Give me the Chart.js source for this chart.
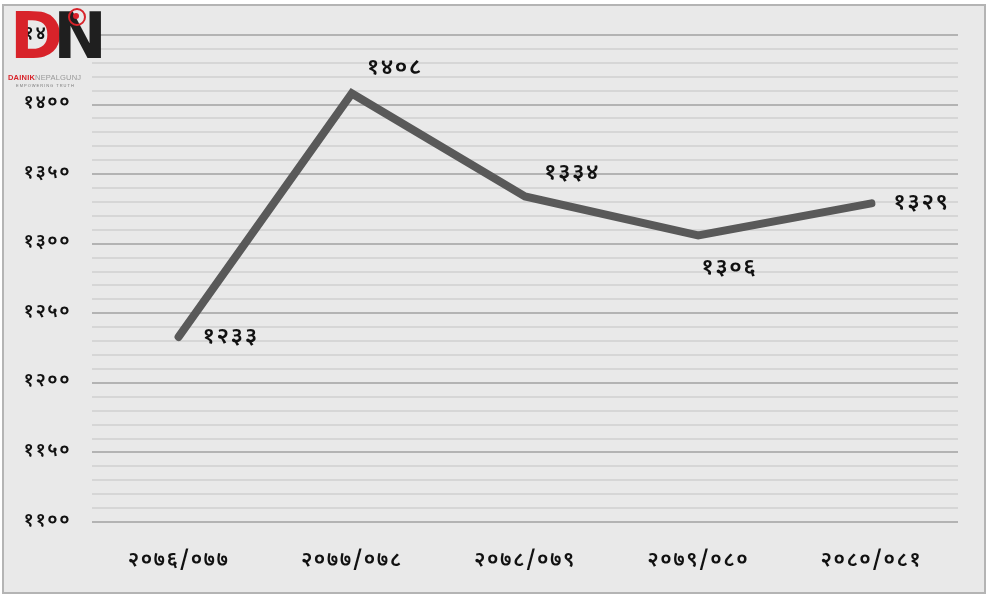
<!DOCTYPE html>
<html>
<head>
<meta charset="utf-8">
<script src="https://cdn.jsdelivr.net/npm/chart.js@4.4.1/dist/chart.umd.min.js"></script>
<style>
  html, body { margin: 0; padding: 0; background: #ffffff; }
  #wrap { position: relative; width: 988px; height: 599px; overflow: hidden; }
  #frame { position: absolute; left: 2px; top: 4px; width: 980px; height: 586px;
           border: 2px solid #b4b4b4; background: #e9e9e9; }
  #c { position: absolute; left: 0; top: 0; }
  #logo { position: absolute; left: 6px; top: 8px; width: 86px; height: 82px; }
  #logo .dn { position: absolute; left: 4px; top: -4px; font: 900 64px/1 "DejaVu Sans", sans-serif; letter-spacing: -10px; }
  #logo .d { color: #d8232a; }
  #logo .n { color: #1f1f1f; }
  #logo .name { position: absolute; left: 2px; top: 66px; font: 700 7.5px/1 "Liberation Sans", sans-serif; color: #d8232a; letter-spacing: 0.2px; }
  #logo .name span { color: #999; font-weight: 400; }
  #logo .tag { position: absolute; left: 10px; top: 76px; font: 400 4px/1 "Liberation Sans", sans-serif; color: #777; letter-spacing: 1px; }
  #logo .sig { position: absolute; left: 62px; top: 0px; width: 14px; height: 14px; border: 2px solid #d8232a; border-radius: 50%; }
  #logo .sig2 { position: absolute; left: 67px; top: 5px; width: 6px; height: 6px; background: #d8232a; border-radius: 50%; }
</style>
</head>
<body>
<div id="wrap">
  <div id="frame"></div>
  <canvas id="c" width="988" height="599"></canvas>
  <div id="logo">
    <div class="dn"><span class="d">D</span><span class="n">N</span></div>
    <div class="sig"></div><div class="sig2"></div>
    <div class="name">DAINIK<span>NEPALGUNJ</span></div>
    <div class="tag">EMPOWERING TRUTH</div>
  </div>
</div>
<script>
// ---- data ----
const categories = ["२०७६/०७७", "२०७७/०७८", "२०७८/०७९", "२०७९/०८०", "२०८०/०८१"];
const values = [1233, 1408, 1334, 1306, 1329];
const yTickValues = [1100, 1150, 1200, 1250, 1300, 1350, 1400, 1450];

const devDigits = ["०","१","२","३","४","५","६","७","८","९"];
function toDev(n) { return String(n).replace(/[0-9]/g, d => devDigits[+d]); }

// label offsets relative to each point (layout only)
const labelOffsets = [[52, 2], [43, -24], [47, -22], [31, 34], [50, 1]];

const FONT = "'Noto Sans Devanagari','Noto Sans', 'DejaVu Sans', sans-serif";

const spacing = {
  id: 'spacing',
  beforeDraw(chart) { chart.ctx.letterSpacing = '1.5px'; }
};

const dataLabels = {
  id: 'dataLabels',
  afterDatasetsDraw(chart) {
    const ctx = chart.ctx;
    const meta = chart.getDatasetMeta(0);
    ctx.save();
    ctx.letterSpacing = '1.5px';
    ctx.fillStyle = '#111';
    ctx.font = "600 23px " + FONT;
    ctx.textAlign = 'center';
    ctx.textBaseline = 'middle';
    meta.data.forEach((pt, i) => {
      const o = labelOffsets[i];
      ctx.fillText(toDev(values[i]), pt.x + o[0], pt.y + o[1]);
    });
    ctx.restore();
  }
};

new Chart(document.getElementById('c'), {
  type: 'line',
  data: {
    labels: categories,
    datasets: [{
      data: values,
      borderColor: '#595959',
      borderWidth: 8,
      pointRadius: 0,
      pointHoverRadius: 0,
      tension: 0,
      borderCapStyle: 'round',
      borderJoinStyle: 'miter',
      fill: false
    }]
  },
  options: {
    responsive: false,
    animation: false,
    events: [],
    layout: { padding: { top: 35, right: 30, left: 0, bottom: 0 } },
    plugins: { legend: { display: false }, tooltip: { enabled: false } },
    scales: {
      x: {
        offset: true,
        grid: { display: false },
        border: { display: false },
        ticks: {
          color: '#111',
          font: { family: FONT, size: 21, weight: '600' },
          padding: 19,
          maxRotation: 0,
          autoSkip: false
        },
        afterFit(s) { s.height = 599 - 522; }
      },
      y: {
        min: 1100,
        max: 1450,
        border: { display: false },
        grid: {
          drawTicks: false,
          lineWidth: 2,
          color(ctx) {
            const v = ctx.tick && ctx.tick.value;
            return yTickValues.includes(v) ? '#b3b3b3' : '#d6d6d6';
          }
        },
        ticks: {
          stepSize: 10,
          autoSkip: false,
          color: '#111',
          padding: 21,
          font: { family: FONT, size: 19, weight: '600' },
          callback(v) { return yTickValues.includes(v) ? toDev(v) : ''; }
        },
        afterFit(s) { s.width = 92; }
      }
    }
  },
  plugins: [spacing, dataLabels]
});
</script>
</body>
</html>
